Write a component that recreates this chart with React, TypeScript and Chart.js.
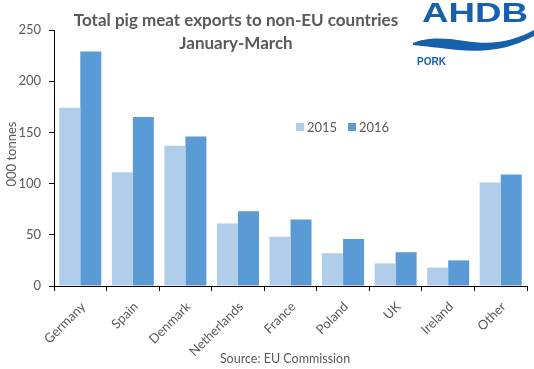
import React, { useEffect, useRef } from "react";
import { Chart, registerables } from "chart.js";

Chart.register(...registerables);

const categories = ["Germany", "Spain", "Denmark", "Netherlands", "France", "Poland", "UK", "Ireland", "Other"];
const values2015 = [174, 111, 137, 61, 48, 32, 22, 18, 101];
const values2016 = [229, 165, 146, 73, 65, 46, 33, 25, 109];
const seriesLabels = ["2015", "2016"];
const titleLines = ["Total pig meat exports to non-EU countries", "January-March"];
const yAxisTitle = "000 tonnes";
const sourceText = "Source: EU Commission";
const logoText = "AHDB";
const logoSubText = "PORK";

const colors = ["#B0CDEA", "#5B9BD5"];
const textColor = "#595959";
const logoColor = "#1660AC";
const fontFamily = "Lato, 'Open Sans', sans-serif";

const overlayPlugin = {
  id: "overlay",
  afterDraw(chart: any) {
    const ctx = chart.ctx as CanvasRenderingContext2D;
    ctx.save();
    // Title
    ctx.fillStyle = textColor;
    ctx.font = `bold 17px ${fontFamily}`;
    ctx.textAlign = "center";
    ctx.textBaseline = "middle";
    ctx.fillText(titleLines[0], 236, 21);
    ctx.fillText(titleLines[1], 236, 44);

    // Legend
    ctx.font = `13px ${fontFamily}`;
    ctx.textAlign = "left";
    const lx = [296, 348];
    seriesLabels.forEach((lab, i) => {
      ctx.fillStyle = colors[i];
      ctx.fillRect(lx[i], 123, 8, 8);
      ctx.fillStyle = textColor;
      ctx.fillText(lab, lx[i] + 11, 128);
    });

    // Y axis title
    ctx.save();
    ctx.translate(12, 154);
    ctx.rotate(-Math.PI / 2);
    ctx.font = `13px ${fontFamily}`;
    ctx.textAlign = "center";
    ctx.fillStyle = textColor;
    ctx.fillText(yAxisTitle, 0, 0);
    ctx.restore();

    // Source
    ctx.font = `12.5px ${fontFamily}`;
    ctx.textAlign = "center";
    ctx.fillStyle = textColor;
    ctx.fillText(sourceText, 285, 359);

    // Logo
    ctx.fillStyle = logoColor;
    ctx.save();
    ctx.font = `bold 28px 'Liberation Sans', Arial, sans-serif`;
    ctx.textAlign = "left";
    ctx.textBaseline = "alphabetic";
    const w = ctx.measureText(logoText).width;
    const targetW = 106;
    ctx.translate(422, 22);
    ctx.scale(targetW / w, 1);
    ctx.fillText(logoText, 0, 0);
    ctx.restore();

    ctx.beginPath();
    ctx.moveTo(413, 43);
    ctx.bezierCurveTo(425, 38, 440, 37, 465, 41);
    ctx.bezierCurveTo(495, 46, 515, 40, 534, 30);
    ctx.lineTo(534, 36);
    ctx.bezierCurveTo(515, 46, 495, 53, 458, 50);
    ctx.bezierCurveTo(438, 48, 425, 46, 413, 45);
    ctx.closePath();
    ctx.fill();

    ctx.font = `bold 10px 'Liberation Sans', Arial, sans-serif`;
    ctx.textAlign = "left";
    ctx.textBaseline = "alphabetic";
    ctx.fillText(logoSubText, 417, 65);
    ctx.restore();
  },
};

export default function App() {
  const canvasRef = useRef<HTMLCanvasElement | null>(null);

  useEffect(() => {
    document.body.style.margin = "0";
    const canvas = canvasRef.current;
    if (!canvas) return;
    const tickFont = { family: fontFamily, size: 13 };
    const chart = new Chart(canvas, {
      type: "bar",
      data: {
        labels: categories,
        datasets: [
          { label: seriesLabels[0], data: values2015, backgroundColor: colors[0], categoryPercentage: 0.8, barPercentage: 1.0 },
          { label: seriesLabels[1], data: values2016, backgroundColor: colors[1], categoryPercentage: 0.8, barPercentage: 1.0 },
        ],
      },
      options: {
        responsive: false,
        animation: false,
        devicePixelRatio: 1,
        layout: { padding: { top: 30, right: 7, left: 0, bottom: 0 } },
        plugins: {
          legend: { display: false },
          title: { display: false },
          tooltip: { enabled: false },
        },
        scales: {
          x: {
            grid: { offset: true, drawOnChartArea: false, drawTicks: true, tickLength: 5, color: "#000" },
            border: { color: "#000" },
            ticks: { minRotation: 45, maxRotation: 45, font: tickFont, color: textColor, padding: 8, labelOffset: 3 },
            afterFit: (s: any) => {
              s.height = 83;
            },
          },
          y: {
            min: 0,
            max: 250,
            grid: { drawOnChartArea: false, drawTicks: true, tickLength: 5, color: "#000" },
            border: { color: "#000" },
            ticks: { stepSize: 50, font: tickFont, color: textColor, padding: 8 },
            afterFit: (s: any) => {
              s.width = 54;
            },
          },
        },
      },
      plugins: [overlayPlugin],
    });
    return () => chart.destroy();
  }, []);

  return (
    <div style={{ position: "absolute", left: 0, top: 0, width: 534, height: 369 }}>
      <canvas ref={canvasRef} width={534} height={369} style={{ width: 534, height: 369 }} />
    </div>
  );
}
